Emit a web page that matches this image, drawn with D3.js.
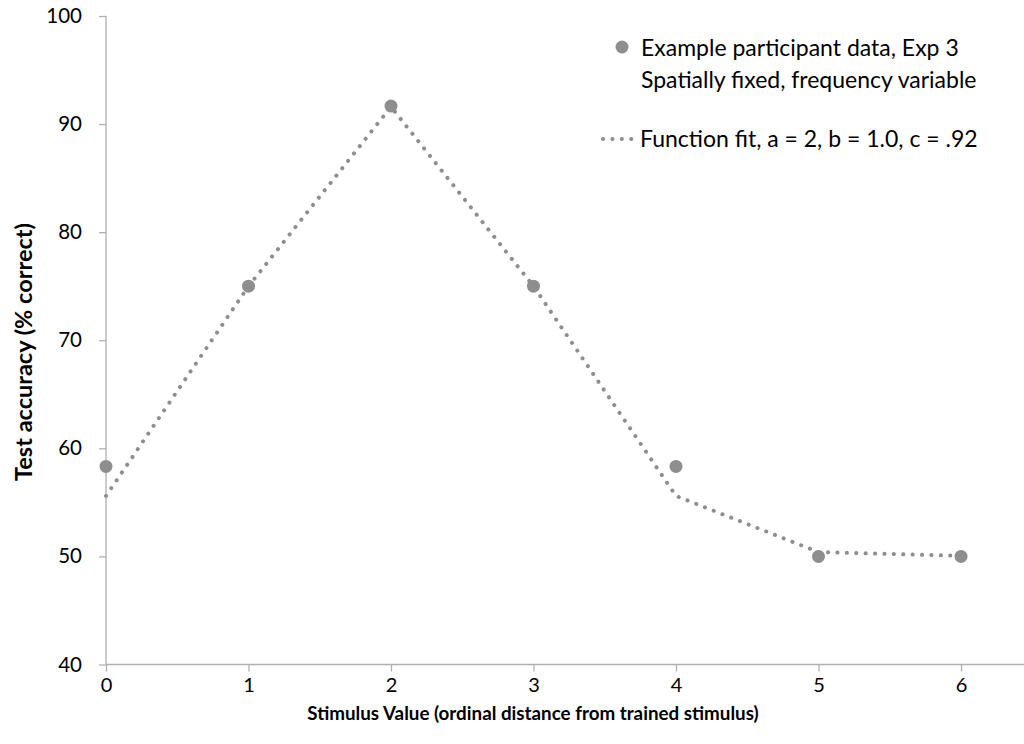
<!DOCTYPE html>
<html>
<head>
<meta charset="utf-8">
<script src="https://cdn.jsdelivr.net/npm/d3@7"></script>
<style>
  html, body { margin: 0; padding: 0; background: #fff; }
  svg { display: block; }
  text { font-family: Lato, "Open Sans", sans-serif; fill: #000; }
</style>
</head>
<body>
<svg id="chart" width="1024" height="744"></svg>
<script>
const stimulusValues = [0, 1, 2, 3, 4, 5, 6];
const participantAccuracy = [58.33, 75, 91.67, 75, 58.33, 50, 50];
const fitAccuracy = [55.6, 75, 91.6, 75, 55.6, 50.4, 50.05];
const xTicks = [0, 1, 2, 3, 4, 5, 6];
const yTicks = [40, 50, 60, 70, 80, 90, 100];
const legendLabels = ["Example participant data, Exp 3", "Spatially fixed, frequency variable", "Function fit, a = 2, b = 1.0, c = .92"];
const xTitle = "Stimulus Value (ordinal distance from trained stimulus)";
const yTitle = "Test accuracy (% correct)";

const svg = d3.select("#chart");
const x = d3.scaleLinear().domain([0, 6]).range([106, 961]);
const y = d3.scaleLinear().domain([40, 100]).range([664.5, 16]);
const axisColor = "#b0b0b0";
const markColor = "#8e8e8e";

svg.append("line").attr("x1", x(0)).attr("x2", 1024)
  .attr("y1", y(40)).attr("y2", y(40))
  .attr("stroke", axisColor).attr("stroke-width", 1.3);
svg.append("line").attr("x1", x(0)).attr("x2", x(0))
  .attr("y1", y(100)).attr("y2", y(40))
  .attr("stroke", axisColor).attr("stroke-width", 1.3);

const xAxis = svg.append("g").attr("transform", `translate(0,${y(40)})`)
  .call(d3.axisBottom(x).tickValues(xTicks).tickFormat(d3.format("d")).tickSize(7).tickPadding(6));
xAxis.select(".domain").remove();
xAxis.selectAll(".tick line").attr("stroke", axisColor).attr("stroke-width", 1.3);
xAxis.selectAll(".tick text").style("font-size", "20px").style("font-family", "Lato, sans-serif").attr("fill", "#000");

const yAxis = svg.append("g").attr("transform", `translate(${x(0)},0)`)
  .call(d3.axisLeft(y).tickValues(yTicks).tickFormat(d3.format("d")).tickSize(7).tickPadding(17));
yAxis.select(".domain").remove();
yAxis.selectAll(".tick line").attr("stroke", axisColor).attr("stroke-width", 1.3);
yAxis.selectAll(".tick text").style("font-size", "20.5px").style("font-family", "Lato, sans-serif").attr("fill", "#000");

const line = d3.line().x((d, i) => x(stimulusValues[i])).y(d => y(d));
svg.append("path").datum(fitAccuracy)
  .attr("d", line).attr("fill", "none")
  .attr("stroke", markColor).attr("stroke-width", 4)
  .attr("stroke-linecap", "round").attr("stroke-dasharray", "0.1 9.3");

svg.append("g").selectAll("circle").data(participantAccuracy).join("circle")
  .attr("cx", (d, i) => x(stimulusValues[i])).attr("cy", d => y(d))
  .attr("r", 6.5).attr("fill", markColor);

svg.append("text").attr("x", 533).attr("y", 720).attr("text-anchor", "middle")
  .style("font-size", "18.8px").style("font-weight", "bold").text(xTitle);
svg.append("text").attr("transform", "translate(32,352) rotate(-90)").attr("text-anchor", "middle")
  .style("font-size", "23.5px").style("font-weight", "bold").text(yTitle);

svg.append("circle").attr("cx", 622).attr("cy", 47).attr("r", 6.5).attr("fill", markColor);
svg.append("text").attr("x", 641).attr("y", 56).style("font-size", "23px").text(legendLabels[0]);
svg.append("text").attr("x", 641).attr("y", 88).style("font-size", "23px").text(legendLabels[1]);
svg.append("line").attr("x1", 603).attr("x2", 636).attr("y1", 139).attr("y2", 139)
  .attr("stroke", markColor).attr("stroke-width", 4)
  .attr("stroke-linecap", "round").attr("stroke-dasharray", "0.1 9.3");
svg.append("text").attr("x", 640).attr("y", 147).style("font-size", "23px").text(legendLabels[2]);
</script>
</body>
</html>
